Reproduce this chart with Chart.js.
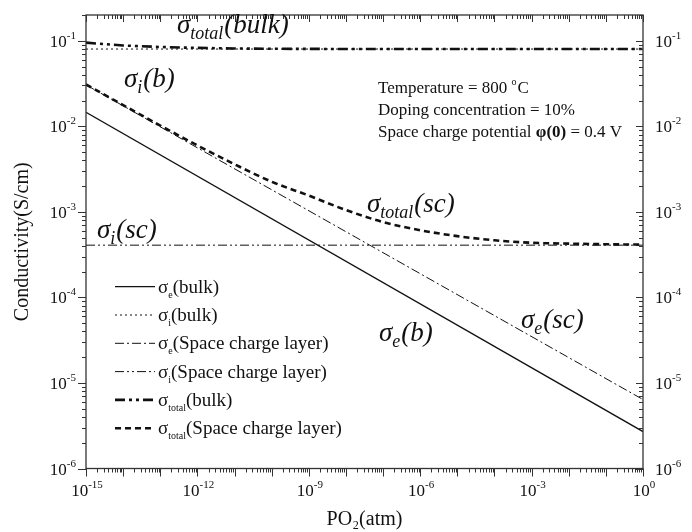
<!DOCTYPE html>
<html><head><meta charset="utf-8">
<script src="https://cdn.jsdelivr.net/npm/chart.js@4/dist/chart.umd.min.js"></script>
<style>html,body{margin:0;padding:0;background:#fff}</style>
</head><body>
<canvas id="c" width="692" height="532"></canvas>
<script>
// ---- data ----
const pressureEnds = [1e-15, 1];
const sigmaEBulk = [1.46e-2, 2.7e-6];
const sigmaIBulk = [0.080, 0.080];
const sigmaESc = [3.05e-2, 6.4e-6];
const sigmaISc = [4.08e-4, 4.08e-4];
const pressureTotalBulk = [1e-15, 1e-14, 1e-13, 1e-12, 1e-11, 1e-10, 1e-8, 1];
const sigmaTotalBulk = [0.095, 0.088, 0.0845, 0.0825, 0.0812, 0.0806, 0.0801, 0.080];
const pressureTotalSc = [1e-15,1e-14,1e-13,1e-12,1e-11,1e-10,1e-9,1e-8,1e-7,1e-6,1e-5,1e-4,1e-3,1e-2,1e-1,1];
const sigmaTotalSc = [3.09e-2,1.77e-2,1.02e-2,5.98e-3,3.6e-3,2.25e-3,1.55e-3,1.05e-3,7.6e-4,6.1e-4,5.2e-4,4.65e-4,4.35e-4,4.25e-4,4.18e-4,4.14e-4];
const xTickExponents = [-15, -12, -9, -6, -3, 0];
const yTickExponents = [-6, -5, -4, -3, -2, -1];
const seriesNames = [
  ['σ','e','(bulk)'],
  ['σ','i','(bulk)'],
  ['σ','e','(Space charge layer)'],
  ['σ','i','(Space charge layer)'],
  ['σ','total','(bulk)'],
  ['σ','total','(Space charge layer)']
];
const infoLines = ['Temperature = 800 ', 'Doping concentration = 10%', 'Space charge potential '];

const pts = (xs, ys) => xs.map((x, i) => ({x: x, y: ys[i]}));
const SERIF = '"Liberation Serif", "Times New Roman", serif';
const expOf = v => String(Math.round(Math.log10(v)));

const styles = [
  {w:1.3, dash:[]},
  {w:1.0, dash:[2,3]},
  {w:1.0, dash:[9,3,2,3]},
  {w:1.0, dash:[9,3,2,3,2,3]},
  {w:2.6, dash:[10,4,3,4,3,4]},
  {w:2.6, dash:[6,4]}
];
const seriesData = [
  pts(pressureEnds, sigmaEBulk),
  pts(pressureEnds, sigmaIBulk),
  pts(pressureEnds, sigmaESc),
  pts(pressureEnds, sigmaISc),
  pts(pressureTotalBulk, sigmaTotalBulk),
  pts(pressureTotalSc, sigmaTotalSc)
];

function runsWidth(ctx, runs) {
  let w = 0;
  runs.forEach(r => { ctx.font = r.font; w += ctx.measureText(r.t).width + (r.gap || 0); });
  return w;
}
function drawRuns(ctx, x, y, runs) {
  let cx = x;
  runs.forEach(r => {
    ctx.font = r.font;
    ctx.fillText(r.t, cx, y + (r.dy || 0));
    cx += ctx.measureText(r.t).width + (r.gap || 0);
  });
}
const powRuns = v => [{t:'10', font:'17px ' + SERIF}, {t:expOf(v), font:'11px ' + SERIF, dy:-8}];

const decor = {
  id: 'decor',
  afterDatasetsDraw(chart) {
    const ctx = chart.ctx, a = chart.chartArea;
    const xs = chart.scales.x, ys = chart.scales.y, ys2 = chart.scales.y2;
    ctx.save();
    ctx.strokeStyle = '#333'; ctx.lineWidth = 1.3; ctx.setLineDash([]);
    ctx.strokeRect(a.left, a.top, a.right - a.left, a.bottom - a.top);
    ctx.lineWidth = 1;
    ctx.beginPath();
    for (let e = -15; e <= 0; e++) {
      for (let m = 1; m <= 9; m++) {
        const v = m * Math.pow(10, e);
        if (v > 1.0000001) break;
        const px = Math.round(xs.getPixelForValue(v)) + 0.5;
        const major = m === 1;
        ctx.moveTo(px, a.bottom); ctx.lineTo(px, a.bottom + (major ? 8 : 4));
        ctx.moveTo(px, a.top); ctx.lineTo(px, a.top + (major ? 7 : 4));
      }
    }
    for (let e = -6; e <= -1; e++) {
      for (let m = 1; m <= 9; m++) {
        const v = m * Math.pow(10, e);
        if (v > 0.2000001) break;
        const py = Math.round(ys.getPixelForValue(v)) + 0.5;
        const major = m === 1;
        ctx.moveTo(a.left, py); ctx.lineTo(a.left - (major ? 8 : 4), py);
        ctx.moveTo(a.right, py); ctx.lineTo(a.right - (major ? 7 : 4), py);
      }
    }
    ctx.stroke();

    // tick labels (positions from the library's scales)
    ctx.fillStyle = '#111';
    ctx.textBaseline = 'alphabetic';
    ctx.textAlign = 'left';
    xs.ticks.forEach(t => {
      const r = powRuns(t.value);
      const px = xs.getPixelForValue(t.value);
      drawRuns(ctx, px - runsWidth(ctx, r) / 2 + 1, a.bottom + 27, r);
    });
    ys.ticks.forEach(t => {
      const r = powRuns(t.value);
      const py = ys.getPixelForValue(t.value);
      drawRuns(ctx, a.left - 10 - runsWidth(ctx, r), py + 6, r);
    });
    ys2.ticks.forEach(t => {
      const r = powRuns(t.value);
      const py = ys2.getPixelForValue(t.value);
      drawRuns(ctx, a.right + 12, py + 6, r);
    });

    // legend
    chart.data.datasets.forEach((ds, i) => {
      const yy = 286.7 + i * 28.3;
      ctx.strokeStyle = '#111';
      ctx.lineWidth = ds.borderWidth;
      ctx.setLineDash(ds.borderDash || []);
      ctx.beginPath(); ctx.moveTo(115, yy); ctx.lineTo(155, yy); ctx.stroke();
      const n = seriesNames[i];
      drawRuns(ctx, 158, yy + 6, [
        {t:n[0], font:'19px ' + SERIF},
        {t:n[1], font:'10px ' + SERIF, dy:5},
        {t:n[2], font:'19px ' + SERIF}
      ]);
    });
    ctx.setLineDash([]);

    // annotations
    const M = 'italic 27px ' + SERIF, S = 'italic 18px ' + SERIF;
    const notes = [
      [177, 33, 'total', '(bulk)'],
      [124, 87, 'i', '(b)'],
      [97, 238, 'i', '(sc)'],
      [367, 212, 'total', '(sc)'],
      [521, 328, 'e', '(sc)'],
      [379, 341, 'e', '(b)']
    ];
    notes.forEach(nt => {
      drawRuns(ctx, nt[0], nt[1], [
        {t:'σ', font:M},
        {t:nt[2], font:S, dy:6, gap:1},
        {t:nt[3], font:M}
      ]);
    });

    // info text
    const F = '17px ' + SERIF;
    drawRuns(ctx, 378, 93, [{t:infoLines[0], font:F}, {t:'o', font:'10px ' + SERIF, dy:-8, gap:1}, {t:'C', font:F}]);
    drawRuns(ctx, 378, 115, [{t:infoLines[1], font:F}]);
    drawRuns(ctx, 378, 137, [{t:infoLines[2], font:F}, {t:'φ(0)', font:'bold 17px ' + SERIF}, {t:' = 0.4 V', font:F}]);
    ctx.restore();
  }
};

const labelScale = (pos, exps, size) => ({
  type: 'logarithmic', position: pos,
  grid: {display: false}, border: {display: false},
  afterBuildTicks: s => { s.ticks = exps.map(e => ({value: Math.pow(10, e)})); },
  afterFit: s => { if (pos === 'bottom') s.height = size; else s.width = size; },
  ticks: {display: false, autoSkip: false}
});

const xScale = Object.assign(labelScale('bottom', xTickExponents, 63.5), {
  min: 1e-15, max: 1,
  title: {display: true, text: 'PO₂(atm)', color: '#111', font: {family: SERIF, size: 20}, padding: {top: 2, bottom: 0}}
});
const yScale = Object.assign(labelScale('left', yTickExponents, 86), {
  min: 1e-6, max: 0.2,
  title: {display: true, text: 'Conductivity(S/cm)', color: '#111', font: {family: SERIF, size: 20}, padding: {top: 11, bottom: 0}}
});
const y2Scale = Object.assign(labelScale('right', yTickExponents, 49), {min: 1e-6, max: 0.2});

new Chart(document.getElementById('c'), {
  type: 'line',
  data: {
    datasets: seriesData.map((d, i) => ({
      label: seriesNames[i].join(''),
      data: d,
      borderColor: '#111',
      borderWidth: styles[i].w,
      borderDash: styles[i].dash,
      pointRadius: 0,
      fill: false,
      cubicInterpolationMode: i === 5 ? 'monotone' : 'default',
      tension: 0
    }))
  },
  options: {
    responsive: false, animation: false, devicePixelRatio: 1,
    layout: {padding: {top: 15, left: 0, right: 0, bottom: 0}},
    plugins: {legend: {display: false}, tooltip: {enabled: false}},
    scales: {x: xScale, y: yScale, y2: y2Scale}
  },
  plugins: [decor]
});
</script>
</body></html>
